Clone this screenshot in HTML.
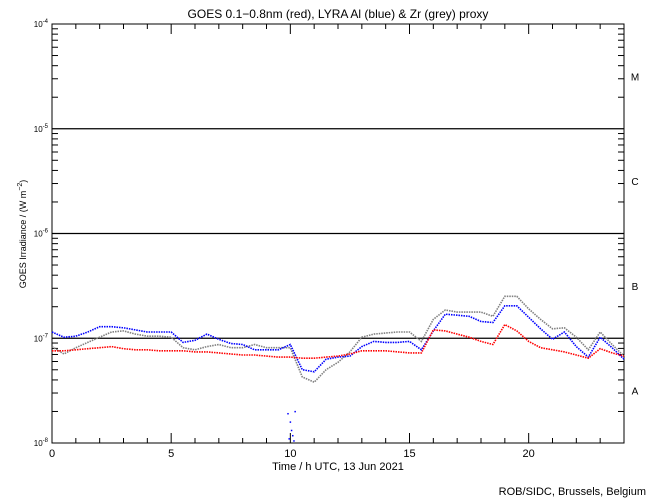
<!DOCTYPE html>
<html><head><meta charset="utf-8"><style>
html,body{margin:0;padding:0;background:#fff;}
svg{display:block;font-family:"Liberation Sans",sans-serif;}
</style></head><body>
<svg id="chart" width="650" height="500" viewBox="0 0 650 500">
<rect width="650" height="500" fill="#fff"/>
<text x="338" y="18" font-size="12" text-anchor="middle">GOES 0.1−0.8nm (red), LYRA Al (blue) &amp; Zr (grey) proxy</text>
<text x="338" y="470" font-size="11" text-anchor="middle">Time / h UTC, 13 Jun 2021</text>
<text x="646" y="495" font-size="11" text-anchor="end">ROB/SIDC, Brussels, Belgium</text>
<text transform="translate(26,234) rotate(-90)" font-size="9" text-anchor="middle">GOES Irradiance / (W m<tspan dy="-4" font-size="7">−2</tspan><tspan dy="4">)</tspan></text>
<g id="axes"></g>
<g id="series"></g>
</svg>
<script>
const hours=[0,0.5,1,1.5,2,2.5,3,3.5,4,4.5,5,5.5,6,6.5,7,7.5,8,8.5,9,9.5,10,10.5,11,11.5,12,12.5,13,13.5,14,14.5,15,15.5,16,16.5,17,17.5,18,18.5,19,19.5,20,20.5,21,21.5,22,22.5,23,23.5,24];
const goesLog=[-7.12,-7.12,-7.11,-7.10,-7.09,-7.08,-7.10,-7.11,-7.11,-7.12,-7.12,-7.12,-7.13,-7.13,-7.14,-7.15,-7.16,-7.16,-7.17,-7.18,-7.18,-7.19,-7.19,-7.18,-7.17,-7.15,-7.12,-7.12,-7.12,-7.13,-7.14,-7.14,-6.92,-6.93,-6.96,-6.99,-7.03,-7.06,-6.87,-6.93,-7.03,-7.09,-7.11,-7.13,-7.16,-7.19,-7.10,-7.14,-7.17];
const alLog=[-6.94,-6.99,-6.98,-6.94,-6.89,-6.89,-6.90,-6.92,-6.94,-6.94,-6.94,-7.04,-7.02,-6.96,-7.01,-7.05,-7.06,-7.11,-7.11,-7.11,-7.06,-7.30,-7.32,-7.20,-7.18,-7.17,-7.08,-7.03,-7.04,-7.04,-7.03,-7.11,-6.93,-6.77,-6.78,-6.79,-6.84,-6.85,-6.69,-6.69,-6.80,-6.91,-7.01,-6.94,-7.08,-7.18,-6.99,-7.09,-7.20];
const zrLog=[-7.08,-7.15,-7.09,-7.04,-6.99,-6.94,-6.93,-6.96,-6.98,-6.98,-6.99,-7.09,-7.11,-7.08,-7.06,-7.09,-7.09,-7.06,-7.09,-7.09,-7.09,-7.37,-7.42,-7.30,-7.23,-7.13,-6.99,-6.96,-6.95,-6.94,-6.94,-7.03,-6.82,-6.73,-6.75,-6.75,-6.75,-6.79,-6.60,-6.60,-6.72,-6.82,-6.91,-6.90,-6.99,-7.11,-6.94,-7.06,-7.17];
const alOutlierHours=[9.9,10.0,10.05,10.1,10.15,9.95,10.2];
const alOutlierLog=[-7.72,-7.80,-7.88,-7.93,-7.98,-7.96,-7.70];
const xTickLabels=[0,5,10,15,20];
const yDecades=[-8,-7,-6,-5,-4];
const classLabels=['A','B','C','M'];

const L=52,R=624,T=24,B=443;
const NS='http://www.w3.org/2000/svg';
function xs(h){return L+(h/24)*(R-L);}
function ys(lg){return B-(lg+8)/4*(B-T);}
function mk(tag,attrs,parent){const e=document.createElementNS(NS,tag);for(const k in attrs)e.setAttribute(k,attrs[k]);parent.appendChild(e);return e;}
const ax=document.getElementById('axes');
const fr=mk('rect',{x:L,y:T,width:R-L,height:B-T,fill:'none',stroke:'#000','stroke-width':1},ax);


for(let h=0;h<=24;h++){
  const x=xs(h);const len=(h%5===0)?10:5;
  mk('line',{x1:x,y1:B,x2:x,y2:B-len,stroke:'#000'},ax);
  mk('line',{x1:x,y1:T,x2:x,y2:T+len,stroke:'#000'},ax);
}
xTickLabels.forEach(v=>{
  const t=mk('text',{x:xs(v),y:B+14,'font-size':11,'text-anchor':'middle'},ax);
  t.textContent=v;
  
  
});
yDecades.forEach((d,i)=>{
  const y=ys(d);
  const t=mk('text',{x:L-4,y:y+3,'font-size':8,'text-anchor':'end'},ax);
  t.innerHTML='10<tspan dy="-4" font-size="6">'+d+'</tspan>';
  
  
  if(d>-8&&d<-4){
    const gl=mk('line',{x1:L,y1:y,x2:R,y2:y,stroke:'#000','stroke-width':1.2},ax);
    
    
  }
  if(i<yDecades.length-1){
    for(let m=2;m<=9;m++){
      const yy=ys(d+Math.log10(m));
      mk('line',{x1:L,y1:yy,x2:L+6,y2:yy,stroke:'#000'},ax);
      mk('line',{x1:R,y1:yy,x2:R-6,y2:yy,stroke:'#000'},ax);
    }
    const c=mk('text',{x:635,y:ys(d+0.5)+4,'font-size':10,'text-anchor':'middle'},ax);
    c.textContent=classLabels[i];
    
    
  }
});
const sg=document.getElementById('series');
function line(arr,color,name){
  const pts=hours.map((h,i)=>xs(h).toFixed(1)+','+ys(arr[i]).toFixed(1)).join(' ');
  const p=mk('polyline',{points:pts,fill:'none',stroke:color,'stroke-width':1.6,'stroke-dasharray':'1.5 1'},sg);
  
  
}
line(zrLog,'#808080','zr-proxy-series');
line(alLog,'#0000ff','al-proxy-series');
line(goesLog,'#ff0000','goes-series');
alOutlierHours.forEach((h,i)=>{
  const r=mk('rect',{x:xs(h)-0.7,y:ys(alOutlierLog[i])-0.7,width:1.5,height:1.5,fill:'#0000ff'},sg);
  
  
});
</script>
</body></html>
